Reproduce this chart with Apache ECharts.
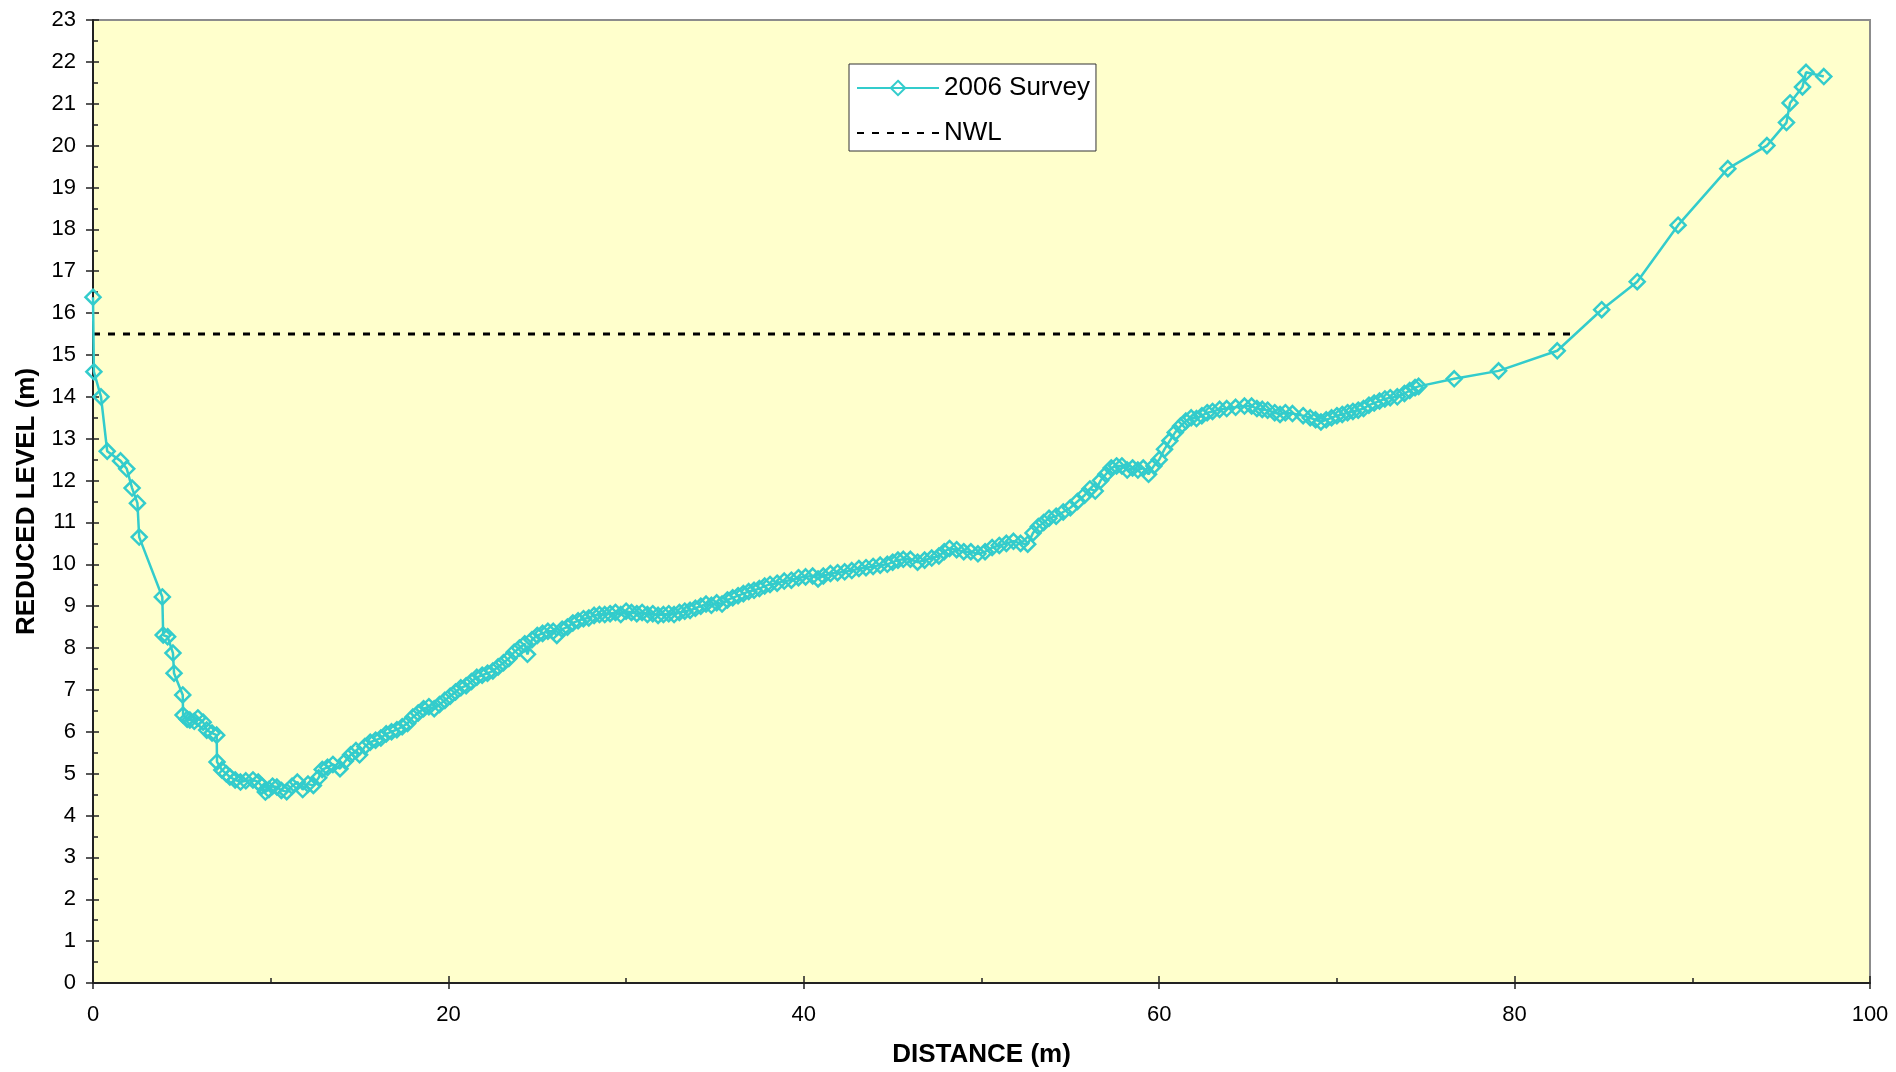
<!DOCTYPE html>
<html>
<head>
<meta charset="utf-8">
<title>2006 Survey cross section</title>
<script src="https://cdn.jsdelivr.net/npm/echarts@6/dist/echarts.min.js"></script>
<style>
    html, body { margin: 0; padding: 0; background: #fff; }
    #chart { width: 1896px; height: 1072px; }
</style>
</head>
<body>
<div id="chart"></div>
<script>
// survey points (distance m, reduced level m)
var distance = [
    0, 0.05, 0.45, 0.8, 1.55, 1.9, 2.2, 2.5, 2.6, 3.9,
    3.95, 4.2, 4.5, 4.56, 5.05, 5.07, 5.3, 5.45, 5.7, 5.9,
    6.2, 6.4, 6.7, 6.96, 6.98, 7.25, 7.5, 7.7, 8.0, 8.3,
    8.6, 9.0, 9.3, 9.5, 9.7, 9.9, 10.1, 10.35, 10.6, 10.9,
    11.2, 11.5, 11.8, 12.1, 12.4, 12.7, 12.9, 13.2, 13.5, 13.9,
    14.2, 14.5, 14.8, 15.0, 15.3, 15.6, 15.9, 16.2, 16.5, 16.8,
    17.1, 17.4, 17.7, 18.0, 18.3, 18.6, 18.9, 19.2, 19.5, 19.8,
    20.1, 20.4, 20.7, 21.0, 21.3, 21.6, 21.9, 22.2, 22.5, 22.8,
    23.1, 23.4, 23.7, 24.0, 24.3, 24.45, 24.7, 25.0, 25.3, 25.6,
    25.9, 26.1, 26.4, 26.7, 27.0, 27.3, 27.6, 27.9, 28.2, 28.5,
    28.8, 29.1, 29.4, 29.7, 30.0, 30.3, 30.6, 30.9, 31.2, 31.5,
    31.8, 32.1, 32.4, 32.7, 33.0, 33.3, 33.6, 33.9, 34.2, 34.5,
    34.8, 35.1, 35.4, 35.7, 36.0, 36.3, 36.6, 36.9, 37.2, 37.5,
    37.8, 38.1, 38.5, 38.9, 39.3, 39.7, 40.1, 40.5, 40.8, 41.1,
    41.5, 41.9, 42.3, 42.7, 43.1, 43.5, 43.9, 44.3, 44.7, 45.0,
    45.3, 45.6, 46.0, 46.4, 46.8, 47.2, 47.6, 47.9, 48.2, 48.6,
    49.0, 49.4, 49.8, 50.2, 50.6, 51.0, 51.4, 51.8, 52.2, 52.6,
    52.9, 53.2, 53.5, 53.8, 54.2, 54.6, 55.0, 55.4, 55.8, 56.1,
    56.4, 56.7, 57.0, 57.3, 57.6, 57.9, 58.2, 58.5, 58.8, 59.1,
    59.4, 59.7, 60.0, 60.3, 60.6, 60.9, 61.2, 61.5, 61.8, 62.1,
    62.4, 62.7, 63.0, 63.4, 63.8, 64.3, 64.8, 65.2, 65.5, 65.8,
    66.1, 66.5, 66.8, 67.1, 67.5, 68.1, 68.5, 68.8, 69.1, 69.4,
    69.7, 70.0, 70.3, 70.6, 70.9, 71.2, 71.5, 71.8, 72.1, 72.4,
    72.7, 73.0, 73.4, 73.8, 74.1, 74.4, 74.6, 76.6, 79.1, 82.4,
    84.9, 86.9, 89.2, 92.0, 94.2, 95.3, 95.5, 96.2, 96.4, 97.4
];
var level = [
    16.38, 14.6, 14.0, 12.7, 12.47, 12.28, 11.82, 11.46, 10.65, 9.22,
    8.31, 8.27, 7.88, 7.4, 6.88, 6.4, 6.3, 6.28, 6.25, 6.33,
    6.23, 6.04, 5.97, 5.92, 5.28, 5.09, 5.0, 4.92, 4.85, 4.8,
    4.83, 4.85, 4.8, 4.7, 4.56, 4.62, 4.7, 4.68, 4.6, 4.57,
    4.7, 4.8, 4.62, 4.75, 4.72, 4.9, 5.1, 5.15, 5.22, 5.12,
    5.3, 5.45, 5.55, 5.45, 5.65, 5.75, 5.8, 5.85, 5.95, 6.0,
    6.05, 6.12, 6.2, 6.35, 6.45, 6.55, 6.6, 6.55, 6.65, 6.75,
    6.85, 6.95, 7.05, 7.1, 7.2, 7.3, 7.35, 7.4, 7.45, 7.55,
    7.65, 7.75, 7.9, 8.0, 8.1, 7.85, 8.2, 8.3, 8.35, 8.4,
    8.4, 8.3, 8.45, 8.5, 8.6, 8.65, 8.7, 8.72, 8.78, 8.8,
    8.8, 8.82, 8.85, 8.8, 8.88, 8.85, 8.82, 8.85, 8.8, 8.82,
    8.78, 8.8, 8.82, 8.8, 8.85, 8.88, 8.9, 8.95, 9.0, 9.05,
    9.02, 9.08, 9.05, 9.15, 9.2, 9.25, 9.3, 9.35, 9.38, 9.42,
    9.48, 9.52, 9.55, 9.6, 9.62, 9.68, 9.7, 9.72, 9.65, 9.72,
    9.78, 9.8, 9.82, 9.85, 9.9, 9.92, 9.95, 9.98, 10.0, 10.05,
    10.1, 10.12, 10.12, 10.05, 10.1, 10.15, 10.2, 10.3, 10.38, 10.35,
    10.3, 10.3, 10.25, 10.3, 10.4, 10.45, 10.5, 10.55, 10.5, 10.48,
    10.75, 10.9, 11.0, 11.1, 11.15, 11.25, 11.35, 11.5, 11.65, 11.8,
    11.75, 12.0, 12.15, 12.3, 12.35, 12.35, 12.25, 12.3, 12.25, 12.3,
    12.15, 12.35, 12.5, 12.75, 12.95, 13.15, 13.3, 13.42, 13.5, 13.48,
    13.55, 13.62, 13.65, 13.7, 13.72, 13.75, 13.78, 13.78, 13.72, 13.7,
    13.68, 13.62, 13.58, 13.62, 13.6, 13.55, 13.5, 13.45, 13.4, 13.45,
    13.5, 13.55, 13.58, 13.62, 13.65, 13.68, 13.72, 13.8, 13.85, 13.9,
    13.95, 13.98, 14.0, 14.08, 14.15, 14.22, 14.25, 14.43, 14.62, 15.1,
    16.08, 16.75, 18.1, 19.45, 20.0, 20.55, 21.02, 21.4, 21.75, 21.65
];
// normal water level line
var nwlDistance = [0, 83.3];
var nwlLevel = [15.5, 15.5];

var seriesNames = ['2006 Survey', 'NWL'];

var FONT = '"Liberation Sans", Arial, sans-serif';

function pairs(xs, ys) {
    var out = [];
    for (var i = 0; i < xs.length; i++) {
        out.push([xs[i], ys[i]]);
    }
    return out;
}

var chart = echarts.init(document.getElementById('chart'), null, { renderer: 'canvas' });

var axisCol = '#222';

chart.setOption({
    animation: false,
    backgroundColor: '#ffffff',
    textStyle: { fontFamily: FONT },
    grid: {
        left: 93, right: 26, top: 20, bottom: 89,
        outerBoundsMode: 'none',
        show: true,
        backgroundColor: '#ffffcc',
        borderColor: '#8c8c8c',
        borderWidth: 2
    },
    legend: {
        orient: 'vertical',
        left: 849, top: 64,
        padding: [11, 6, 5, 7],
        itemGap: 19,
        itemWidth: 82,
        itemHeight: 18,
        backgroundColor: '#ffffff',
        borderColor: '#333',
        borderWidth: 1,
        borderRadius: 0,
        textStyle: { fontSize: 26, color: '#000', fontFamily: FONT, lineHeight: 26 },
        data: seriesNames
    },
    xAxis: [
        {
            type: 'value', min: 0, max: 100, interval: 20,
            position: 'bottom',
            name: 'DISTANCE (m)', nameLocation: 'middle', nameGap: 59,
            nameTextStyle: { fontSize: 26, fontWeight: 'bold', color: '#000', fontFamily: FONT },
            axisLine: { show: true, onZero: false, lineStyle: { color: axisCol, width: 2 } },
            axisTick: { show: true, inside: false, length: 6, lineStyle: { color: axisCol, width: 1.5 } },
            axisLabel: { fontSize: 22, color: '#000', margin: 21, fontFamily: FONT },
            splitLine: { show: false }
        },
        {
            // inner ticks (majors cross the axis, minors inside only)
            type: 'value', min: 0, max: 100, interval: 20,
            position: 'bottom',
            axisLine: { show: false },
            axisTick: { show: true, inside: true, length: 7, lineStyle: { color: axisCol, width: 1.5 } },
            minorTick: { show: true, splitNumber: 2, length: 5, lineStyle: { color: axisCol, width: 1.5 } },
            axisLabel: { show: false },
            splitLine: { show: false }
        }
    ],
    yAxis: [
        {
            type: 'value', min: 0, max: 23, interval: 1,
            position: 'left',
            name: 'REDUCED LEVEL (m)', nameLocation: 'middle', nameGap: 53, nameRotate: 90,
            nameTextStyle: { fontSize: 26, fontWeight: 'bold', color: '#000', fontFamily: FONT },
            axisLine: { show: true, onZero: false, lineStyle: { color: axisCol, width: 2 } },
            axisTick: { show: true, inside: false, length: 7, lineStyle: { color: axisCol, width: 1.5 } },
            axisLabel: { fontSize: 22, color: '#000', margin: 17, fontFamily: FONT },
            splitLine: { show: false }
        },
        {
            type: 'value', min: 0, max: 23, interval: 1,
            position: 'left',
            axisLine: { show: false },
            axisTick: { show: true, inside: true, length: 6, lineStyle: { color: axisCol, width: 1.5 } },
            minorTick: { show: true, splitNumber: 2, length: 5, lineStyle: { color: axisCol, width: 1.5 } },
            axisLabel: { show: false },
            splitLine: { show: false }
        }
    ],
    series: [
        {
            name: seriesNames[1],
            type: 'line',
            xAxisIndex: 0, yAxisIndex: 0,
            data: pairs(nwlDistance, nwlLevel),
            symbol: 'none',
            silent: true,
            lineStyle: { color: '#000', width: 3, type: [7, 8] },
            // transparent so the legend shows only the dashes
            itemStyle: { color: 'rgba(0,0,0,0)', borderColor: 'rgba(0,0,0,0)' },
            z: 2
        },
        {
            name: seriesNames[0],
            type: 'line',
            xAxisIndex: 0, yAxisIndex: 0,
            data: pairs(distance, level),
            symbol: 'diamond',
            symbolSize: 15,
            showAllSymbol: true,
            silent: true,
            lineStyle: { color: '#33cccc', width: 2.5 },
            itemStyle: { color: 'rgba(255,255,204,0)', borderColor: '#33cccc', borderWidth: 2.5 },
            emphasis: { disabled: true },
            z: 3
        }
    ]
});
</script>
</body>
</html>
